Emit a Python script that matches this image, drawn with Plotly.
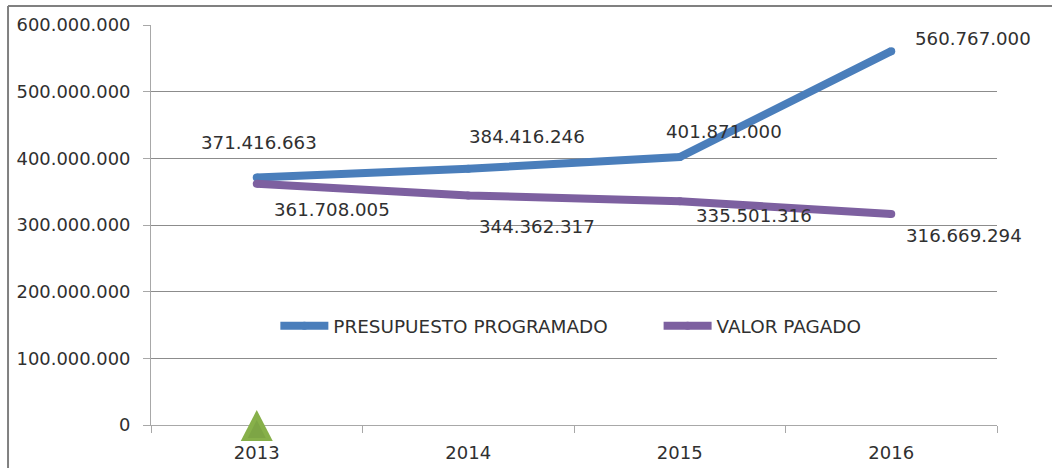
import plotly.graph_objects as go

years = ["2013", "2014", "2015", "2016"]
programado = [371416663, 384416246, 401871000, 560767000]
pagado = [361708005, 344362317, 335501316, 316669294]
programado_labels = ["371.416.663", "384.416.246", "401.871.000", "560.767.000"]
pagado_labels = ["361.708.005", "344.362.317", "335.501.316", "316.669.294"]
y_ticks = [0, 100000000, 200000000, 300000000, 400000000, 500000000, 600000000]
y_tick_labels = ["0", "100.000.000", "200.000.000", "300.000.000", "400.000.000", "500.000.000", "600.000.000"]
prog_offsets = [(2, 35), (59, 32), (44, 26), (82, 13)]
pag_offsets = [(75, -26), (69, -31), (74, -14), (73, -22)]

FONT = "DejaVu Sans"
TEXT = "#303030"
GRID = "#8c8c8c"
AXIS = "#a8a8a8"
LW = 8

fig = go.Figure()
fig.add_trace(go.Scatter(x=years, y=programado, mode="lines+markers", name="PRESUPUESTO PROGRAMADO",
                         showlegend=True,
                         line=dict(color="#4a7ebb", width=LW), marker=dict(size=LW, color="#4a7ebb")))
fig.add_trace(go.Scatter(x=years, y=pagado, mode="lines+markers", name="VALOR PAGADO", legend="legend2",
                         showlegend=True,
                         line=dict(color="#7d60a0", width=LW), marker=dict(size=LW, color="#7d60a0")))

annotations = []
for labels, vals, offs in ((programado_labels, programado, prog_offsets), (pagado_labels, pagado, pag_offsets)):
    for i, (v, lab, (dx, dy)) in enumerate(zip(vals, labels, offs)):
        annotations.append(dict(x=i, y=v, text=lab, showarrow=False, xshift=dx, yshift=dy,
                                font=dict(family=FONT, size=18.2, color=TEXT)))

def triangle(path, color):
    return dict(type="path", xsizemode="pixel", ysizemode="pixel", xanchor=0.125, yanchor=0, path=path,
                xref="paper", yref="paper", fillcolor=color, line=dict(width=0), layer="above")

legend_style = dict(orientation="h", xanchor="left", yanchor="middle", bgcolor="rgba(0,0,0,0)",
                    itemwidth=48, font=dict(size=18.4, color=TEXT))

fig.update_layout(
    width=1052, height=468, margin=dict(l=151, r=55, t=25, b=43, autoexpand=False),
    paper_bgcolor="white", plot_bgcolor="white", font=dict(family=FONT, size=17.9, color=TEXT),
    showlegend=True,
    annotations=annotations,
    legend=dict(x=0.147, y=0.248, **legend_style),
    legend2=dict(x=0.6, y=0.248, **legend_style),
    xaxis=dict(type="category", range=[-0.5, 3.5], tickson="boundaries", ticks="outside", ticklen=7,
               tickcolor=AXIS, showline=True, linecolor=AXIS, showgrid=False, automargin=False,
               ticklabelstandoff=11, tickfont=dict(size=18)),
    yaxis=dict(range=[0, 600000000], tickvals=y_ticks, ticktext=y_tick_labels, ticks="outside", ticklen=7,
               tickcolor=AXIS, showline=True, linecolor=AXIS, gridcolor=GRID, gridwidth=1,
               zeroline=False, automargin=False, ticklabelstandoff=9),
    shapes=[
        dict(type="line", xref="paper", yref="paper", x0=-0.169, x1=-0.169, y0=-0.1075, y1=1.0475,
             line=dict(color="#808080", width=2)),
        dict(type="line", xref="paper", yref="paper", x0=-0.169, x1=1.065, y0=1.0475, y1=1.0475,
             line=dict(color="#808080", width=2)),
        triangle("M -16,-16 L 16,-16 L 0,15 Z", "#87b04a"),
        triangle("M -9,-13 L 9,-13 L 0,5 Z", "#7da545"),
    ],
)
fig.write_html("out.html", post_script="document.body.style.margin='0';",
               config=dict(displayModeBar=False))
